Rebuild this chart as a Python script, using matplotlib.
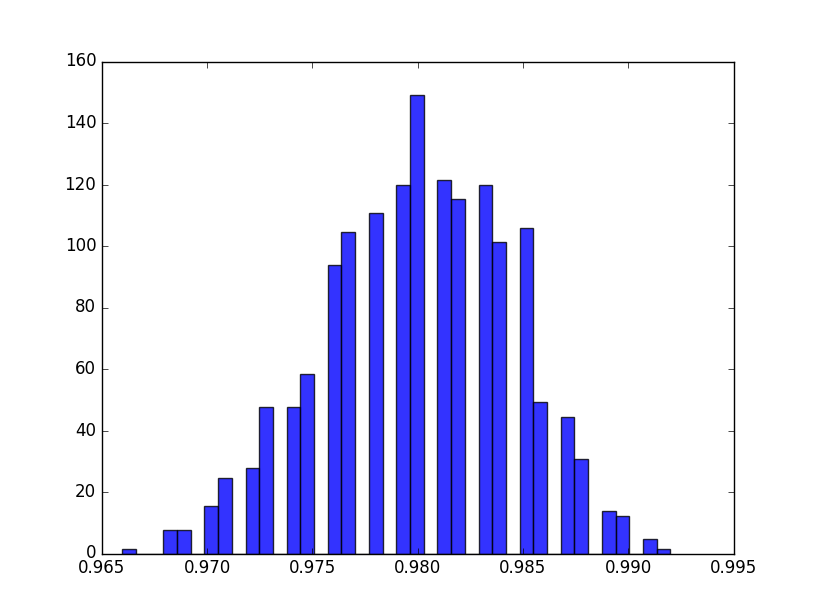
import numpy as np
import matplotlib
matplotlib.use("Agg")
from matplotlib import pyplot as plt
from matplotlib.ticker import FormatStrFormatter

plt.style.use("classic")

# histogram bins
bin_start = 0.965964
bin_width = 0.000651
n_bins = 40
counts = [1, 0, 0, 5, 5, 0, 10, 16, 0, 18,
          31, 0, 31, 38, 0, 61, 68, 0, 72, 0,
          78, 97, 0, 79, 75, 0, 78, 66, 0, 69,
          32, 0, 29, 20, 0, 9, 8, 0, 3, 1]

x_ticks = [0.965, 0.970, 0.975, 0.980, 0.985, 0.990, 0.995]
y_ticks = [0, 20, 40, 60, 80, 100, 120, 140, 160]

edges = bin_start + bin_width * np.arange(n_bins + 1)
centers = (edges[:-1] + edges[1:]) / 2

fig = plt.figure(figsize=(8.15, 6.15), dpi=100)
ax = fig.add_subplot(111)
ax.hist(centers, bins=edges, weights=counts, density=True,
        color="b", alpha=0.8)

ax.set_xlim(0.965, 0.995)
ax.set_ylim(0, 160)
ax.set_xticks(x_ticks)
ax.set_yticks(y_ticks)
ax.xaxis.set_major_formatter(FormatStrFormatter("%.3f"))

fig.savefig("out.png", dpi=100)
